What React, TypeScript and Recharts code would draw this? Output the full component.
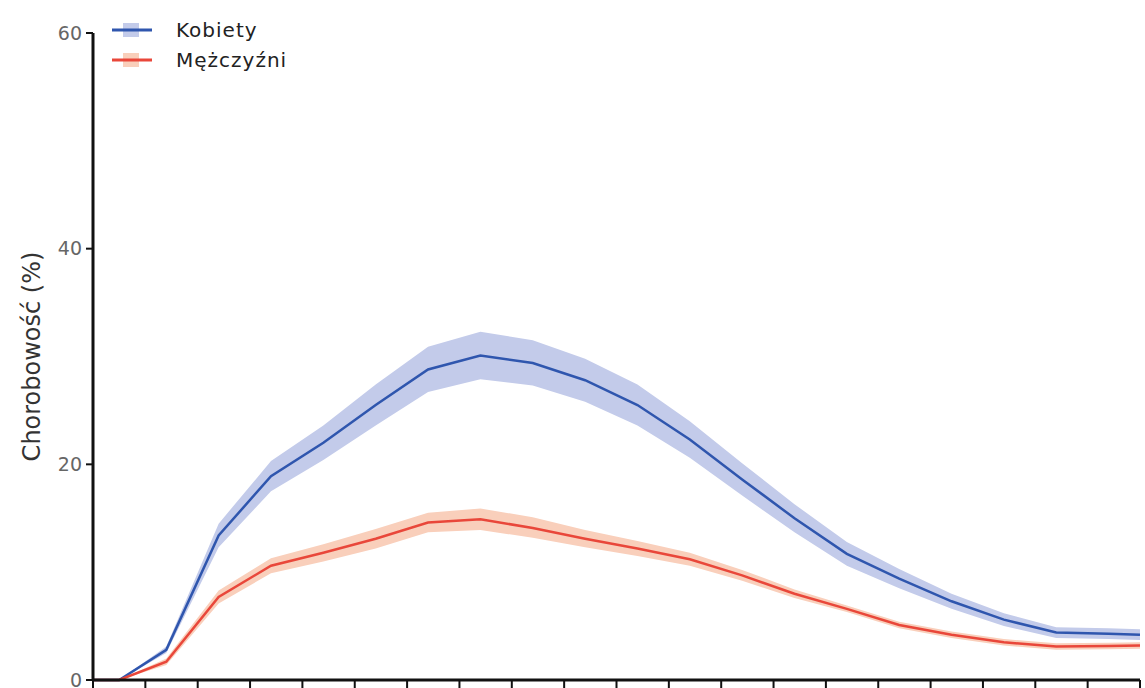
import React from 'react';
import {
  ComposedChart,
  Area,
  Line,
  XAxis,
  YAxis,
  Legend,
  Label,
} from 'recharts';

// age (years) at which each point is plotted
const ages = [0, 2.5, 7, 12, 17, 22, 27, 32, 37, 42, 47, 52, 57, 62, 67, 72, 77, 82, 87, 92, 97, 100];

const kobiety = [0, 0, 2.8, 13.4, 18.9, 22.0, 25.5, 28.8, 30.1, 29.4, 27.8, 25.5, 22.3, 18.6, 15.0, 11.7, 9.4, 7.3, 5.6, 4.4, 4.3, 4.2];
const kobietyLow = [0, 0, 2.5, 12.3, 17.5, 20.4, 23.6, 26.7, 27.9, 27.3, 25.8, 23.6, 20.6, 17.1, 13.7, 10.6, 8.5, 6.6, 5.0, 3.9, 3.8, 3.7];
const kobietyHigh = [0, 0, 3.1, 14.5, 20.3, 23.6, 27.4, 30.9, 32.3, 31.5, 29.8, 27.4, 24.0, 20.1, 16.3, 12.8, 10.3, 8.0, 6.2, 4.9, 4.8, 4.7];

const mezczyzni = [0, 0, 1.7, 7.7, 10.6, 11.8, 13.1, 14.6, 14.9, 14.1, 13.1, 12.2, 11.2, 9.7, 8.0, 6.6, 5.1, 4.2, 3.5, 3.1, 3.15, 3.2];
const mezczyzniLow = [0, 0, 1.4, 7.1, 9.9, 11.0, 12.2, 13.7, 13.9, 13.2, 12.3, 11.5, 10.6, 9.2, 7.6, 6.3, 4.8, 3.9, 3.2, 2.8, 2.85, 2.9];
const mezczyzniHigh = [0, 0, 2.0, 8.3, 11.3, 12.6, 14.0, 15.5, 15.9, 15.1, 13.9, 12.9, 11.8, 10.2, 8.4, 6.9, 5.4, 4.5, 3.8, 3.4, 3.45, 3.5];

const xTicks = [0, 5, 10, 15, 20, 25, 30, 35, 40, 45, 50, 55, 60, 65, 70, 75, 80, 85, 90, 95, 100];
const yTicks = [0, 20, 40, 60];

const BLUE = '#2f56ae';
const BLUE_BAND = '#c3cbea';
const RED = '#e9473a';
const RED_BAND = '#f9cfbb';
const FONT = '"DejaVu Sans", Verdana, sans-serif';

const data = ages.map((age, i) => ({
  age,
  k: kobiety[i],
  kRange: [kobietyLow[i], kobietyHigh[i]],
  m: mezczyzni[i],
  mRange: [mezczyzniLow[i], mezczyzniHigh[i]],
}));

const bandFor: Record<string, string> = { [BLUE]: BLUE_BAND, [RED]: RED_BAND };

function renderLegend(props: any) {
  const items = (props.payload || []).filter((p: any) => p.type !== 'none');
  return (
    <div style={{ fontFamily: FONT }}>
      {items.map((p: any) => (
        <div key={p.value} style={{ display: 'flex', alignItems: 'center', height: 30 }}>
          <svg width={44} height={20} style={{ marginRight: 22 }}>
            <rect x={13} y={3} width={16} height={14} fill={bandFor[p.color] || p.color} />
            <line x1={2} y1={10} x2={42} y2={10} stroke={p.color} strokeWidth={3} />
          </svg>
          <span style={{ fontSize: 20, color: '#222', letterSpacing: 1 }}>{p.value}</span>
        </div>
      ))}
    </div>
  );
}

function YTitle({ viewBox }: any) {
  const cy = viewBox.y + viewBox.height / 2;
  return (
    <text
      x={32}
      y={cy}
      transform={`rotate(-90, 32, ${cy})`}
      textAnchor="middle"
      dominantBaseline="central"
      fontFamily={FONT}
      fontSize={24}
      fill="#333"
    >
      Chorobowość (%)
    </text>
  );
}

export default function App() {
  return (
    <div style={{ position: 'absolute', left: 0, top: 0, width: 1145, height: 688, overflow: 'hidden', background: '#fff' }}>
      <ComposedChart
        width={1145}
        height={688}
        data={data}
        margin={{ top: 33, right: 5, left: 0, bottom: 0 }}
      >
        <XAxis
          dataKey="age"
          type="number"
          domain={[0, 100]}
          ticks={xTicks}
          interval={0}
          tickFormatter={() => ''}
          tickSize={10}
          height={8}
          axisLine={{ stroke: '#111', strokeWidth: 3 }}
          tickLine={{ stroke: '#111', strokeWidth: 2 }}
        />
        <YAxis
          type="number"
          domain={[0, 60]}
          ticks={yTicks}
          interval={0}
          width={93}
          tickSize={7}
          tickMargin={4}
          axisLine={{ stroke: '#111', strokeWidth: 3 }}
          tickLine={{ stroke: '#111', strokeWidth: 2 }}
          tick={{ fontSize: 19, fill: '#666', fontFamily: FONT }}
        >
          <Label content={<YTitle />} />
        </YAxis>
        <Area
          type="linear"
          dataKey="kRange"
          stroke="none"
          fill={BLUE_BAND}
          fillOpacity={1}
          legendType="none"
          isAnimationActive={false}
        />
        <Area
          type="linear"
          dataKey="mRange"
          stroke="none"
          fill={RED_BAND}
          fillOpacity={1}
          legendType="none"
          isAnimationActive={false}
        />
        <Line
          type="linear"
          dataKey="k"
          name="Kobiety"
          stroke={BLUE}
          strokeWidth={2.5}
          dot={false}
          isAnimationActive={false}
        />
        <Line
          type="linear"
          dataKey="m"
          name="Mężczyźni"
          stroke={RED}
          strokeWidth={2.5}
          dot={false}
          isAnimationActive={false}
        />
        <Legend
          layout="vertical"
          align="center"
          verticalAlign="middle"
          content={renderLegend}
          wrapperStyle={{ left: 110, top: 15, width: 'auto' }}
        />
      </ComposedChart>
    </div>
  );
}
